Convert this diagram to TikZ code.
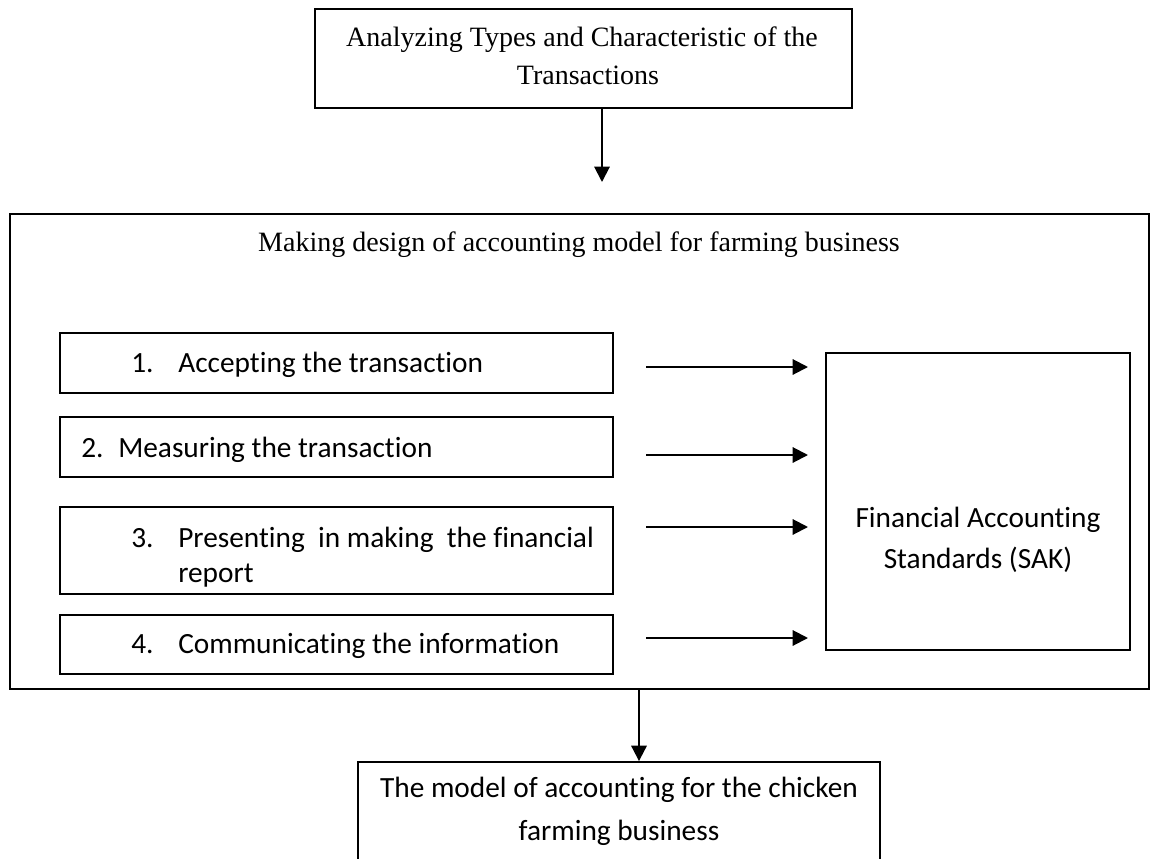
\documentclass[tikz,border=0pt]{standalone}
\usepackage{fontspec}
\setmainfont{Liberation Serif}
\newfontfamily\calfont[Ligatures=NoCommon]{Carlito}
\usetikzlibrary{arrows.meta}
\begin{document}
\begin{tikzpicture}[x=0.75pt,y=-0.75pt,
  box/.style={draw=black,line width=1.4pt,fill=none,inner sep=0pt},
  arr/.style={line width=1.5pt,-{Triangle[length=11.5pt,width=11.5pt]}},
  serif/.style={font=\fontsize{21}{28}\selectfont,inner sep=0pt},
  cal/.style={font=\calfont\fontsize{22}{27}\selectfont,inner sep=0pt}]
\useasboundingbox (0,0) rectangle (1159,859);
\clip (0,0) rectangle (1159,859);
% boxes
\node[box,minimum width=402.75pt,minimum height=74.25pt] (top) at (583.5,58.5) {};
\node[box,minimum width=854.25pt,minimum height=356.25pt] (big) at (579.5,451.5) {};
\node[box,minimum width=414.75pt,minimum height=45pt] (b1) at (336.5,363) {};
\node[box,minimum width=414.75pt,minimum height=45pt] (b2) at (336.5,447) {};
\node[box,minimum width=414.75pt,minimum height=65.25pt] (b3) at (336.5,550.5) {};
\node[box,minimum width=414.75pt,minimum height=44.25pt] (b4) at (336.5,644.5) {};
\node[box,minimum width=228pt,minimum height=222.75pt] (sak) at (978,501.5) {};
\node[box,minimum width=391.5pt,minimum height=90pt] (bot) at (619,822) {};
% texts
\node[serif,anchor=base] (tt1) at (582,47) {Analyzing Types and Characteristic of the};
\node[serif,anchor=base] (tt2) at (588,85) {Transactions};
\node[serif,anchor=base] (bigt) at (579,252) {Making design of accounting model for farming business};
\node[cal,anchor=base west] (n1) at (131,372) {1.};
\node[cal,anchor=base west] (l1) at (178,372) {Accepting the transaction};
\node[cal,anchor=base west] (n2) at (81,457) {2.};
\node[cal,anchor=base west] (l2) at (118,457) {Measuring the transaction};
\node[cal,anchor=base west] (n3) at (131,547) {3.};
\node[cal,anchor=base west] (l3) at (178,547) {Presenting\ \ in making\ \ the financial};
\node[cal,anchor=base west] (l3b) at (178,582) {report};
\node[cal,anchor=base west] (n4) at (131,653) {4.};
\node[cal,anchor=base west] (l4) at (178,653) {Communicating the information};
\node[cal,anchor=base] (s1) at (978,527) {Financial Accounting};
\node[cal,anchor=base] (s2) at (978,568) {Standards (SAK)};
\node[cal,anchor=base] (m1) at (619,797) {The model of accounting for the chicken};
\node[cal,anchor=base] (m2) at (619,840) {farming business};
% connectors
\coordinate (c0) at (602,182);
\draw[arr] (top.south -| c0) -- (c0);
\coordinate (a1) at (646,367); \coordinate (e1) at (808,367);
\coordinate (a2) at (646,455); \coordinate (e2) at (808,455);
\coordinate (a3) at (646,527); \coordinate (e3) at (808,527);
\coordinate (a4) at (646,638); \coordinate (e4) at (808,638);
\draw[arr] (a1) -- (e1);
\draw[arr] (a2) -- (e2);
\draw[arr] (a3) -- (e3);
\draw[arr] (a4) -- (e4);
\coordinate (c5) at (639,0);
\draw[arr] (big.south -| c5) -- (bot.north -| c5);
\end{tikzpicture}
\end{document}
